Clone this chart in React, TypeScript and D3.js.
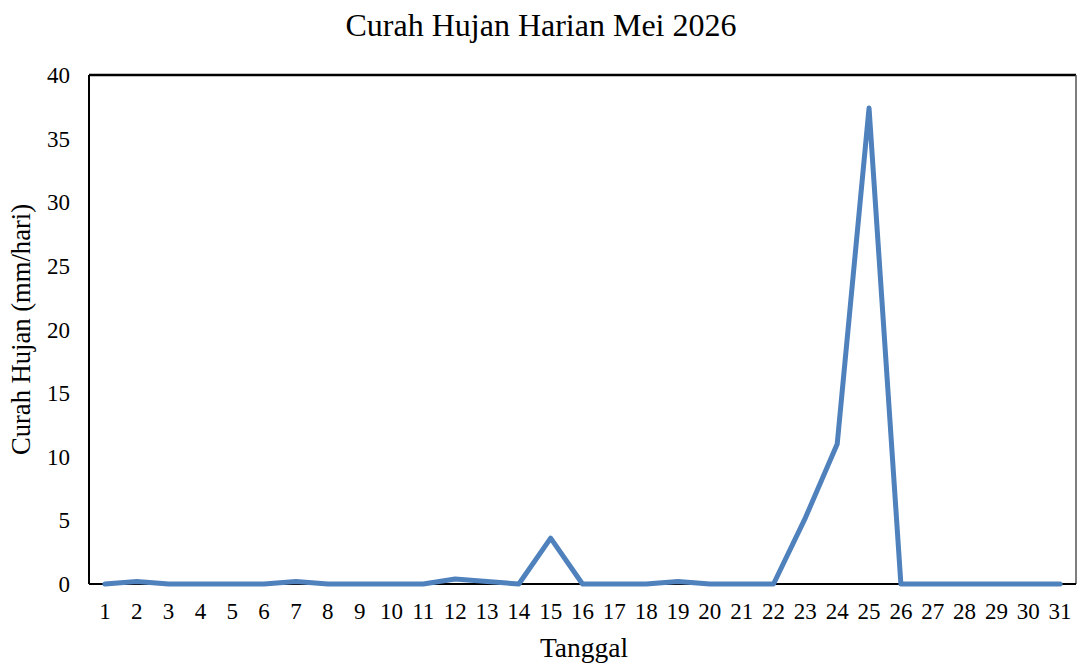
import React from "react";
import * as d3 from "d3";

const days = d3.range(1, 32).map(String);
const rainfall = [
  0, 0.2, 0, 0, 0, 0, 0.2, 0, 0, 0, 0, 0.4, 0.2, 0, 3.6, 0, 0, 0, 0.2, 0, 0, 0, 5.2, 11, 37.4, 0, 0, 0, 0, 0, 0,
];
const yTicks = [0, 5, 10, 15, 20, 25, 30, 35, 40];

const width = 1077;
const height = 663;
const margin = { top: 75, right: 1, bottom: 79, left: 89 };
const font = "'Liberation Serif', 'Times New Roman', serif";

export default function App() {
  const x = d3
    .scaleBand()
    .domain(days)
    .range([margin.left, width - margin.right]);
  const y = d3
    .scaleLinear()
    .domain([0, 40])
    .range([height - margin.bottom, margin.top]);

  const line = d3
    .line<number>()
    .x((d, i) => (x(days[i]) as number) + x.bandwidth() / 2)
    .y((d) => y(d));

  const left = margin.left;
  const right = width - margin.right;
  const top = margin.top;
  const bottom = height - margin.bottom;

  return (
    <svg
      width={width}
      height={height}
      style={{ position: "absolute", left: 0, top: 0, background: "#fff" }}
      fontFamily={font}
    >
      <text x={541} y={36} textAnchor="middle" fontSize={32} fill="#000">
        Curah Hujan Harian Mei 2026
      </text>

      {/* frame */}
      <line x1={left} x2={right} y1={top} y2={top} stroke="#000" strokeWidth={2.5} />
      <line x1={left} x2={left} y1={top} y2={bottom} stroke="#000" strokeWidth={2} />
      <line x1={right} x2={right} y1={top} y2={bottom} stroke="#555" strokeWidth={1.5} />
      <line x1={left} x2={right} y1={bottom} y2={bottom} stroke="#000" strokeWidth={2} />

      {yTicks.map((t) => (
        <text
          key={t}
          x={70}
          y={y(t)}
          dy="0.35em"
          textAnchor="end"
          fontSize={23}
          fill="#000"
        >
          {t}
        </text>
      ))}

      {days.map((d) => (
        <text
          key={d}
          x={(x(d) as number) + x.bandwidth() / 2}
          y={619}
          textAnchor="middle"
          fontSize={23}
          fill="#000"
        >
          {d}
        </text>
      ))}

      <path
        d={line(rainfall) || ""}
        fill="none"
        stroke="#4f81bd"
        strokeWidth={5}
        strokeLinejoin="round"
        strokeLinecap="round"
      />

      <text x={584} y={657} textAnchor="middle" fontSize={27.5} fill="#000">
        Tanggal
      </text>
      <text
        transform={`translate(30, ${(top + bottom) / 2}) rotate(-90)`}
        textAnchor="middle"
        fontSize={26.6}
        fill="#000"
      >
        Curah Hujan (mm/hari)
      </text>
    </svg>
  );
}
